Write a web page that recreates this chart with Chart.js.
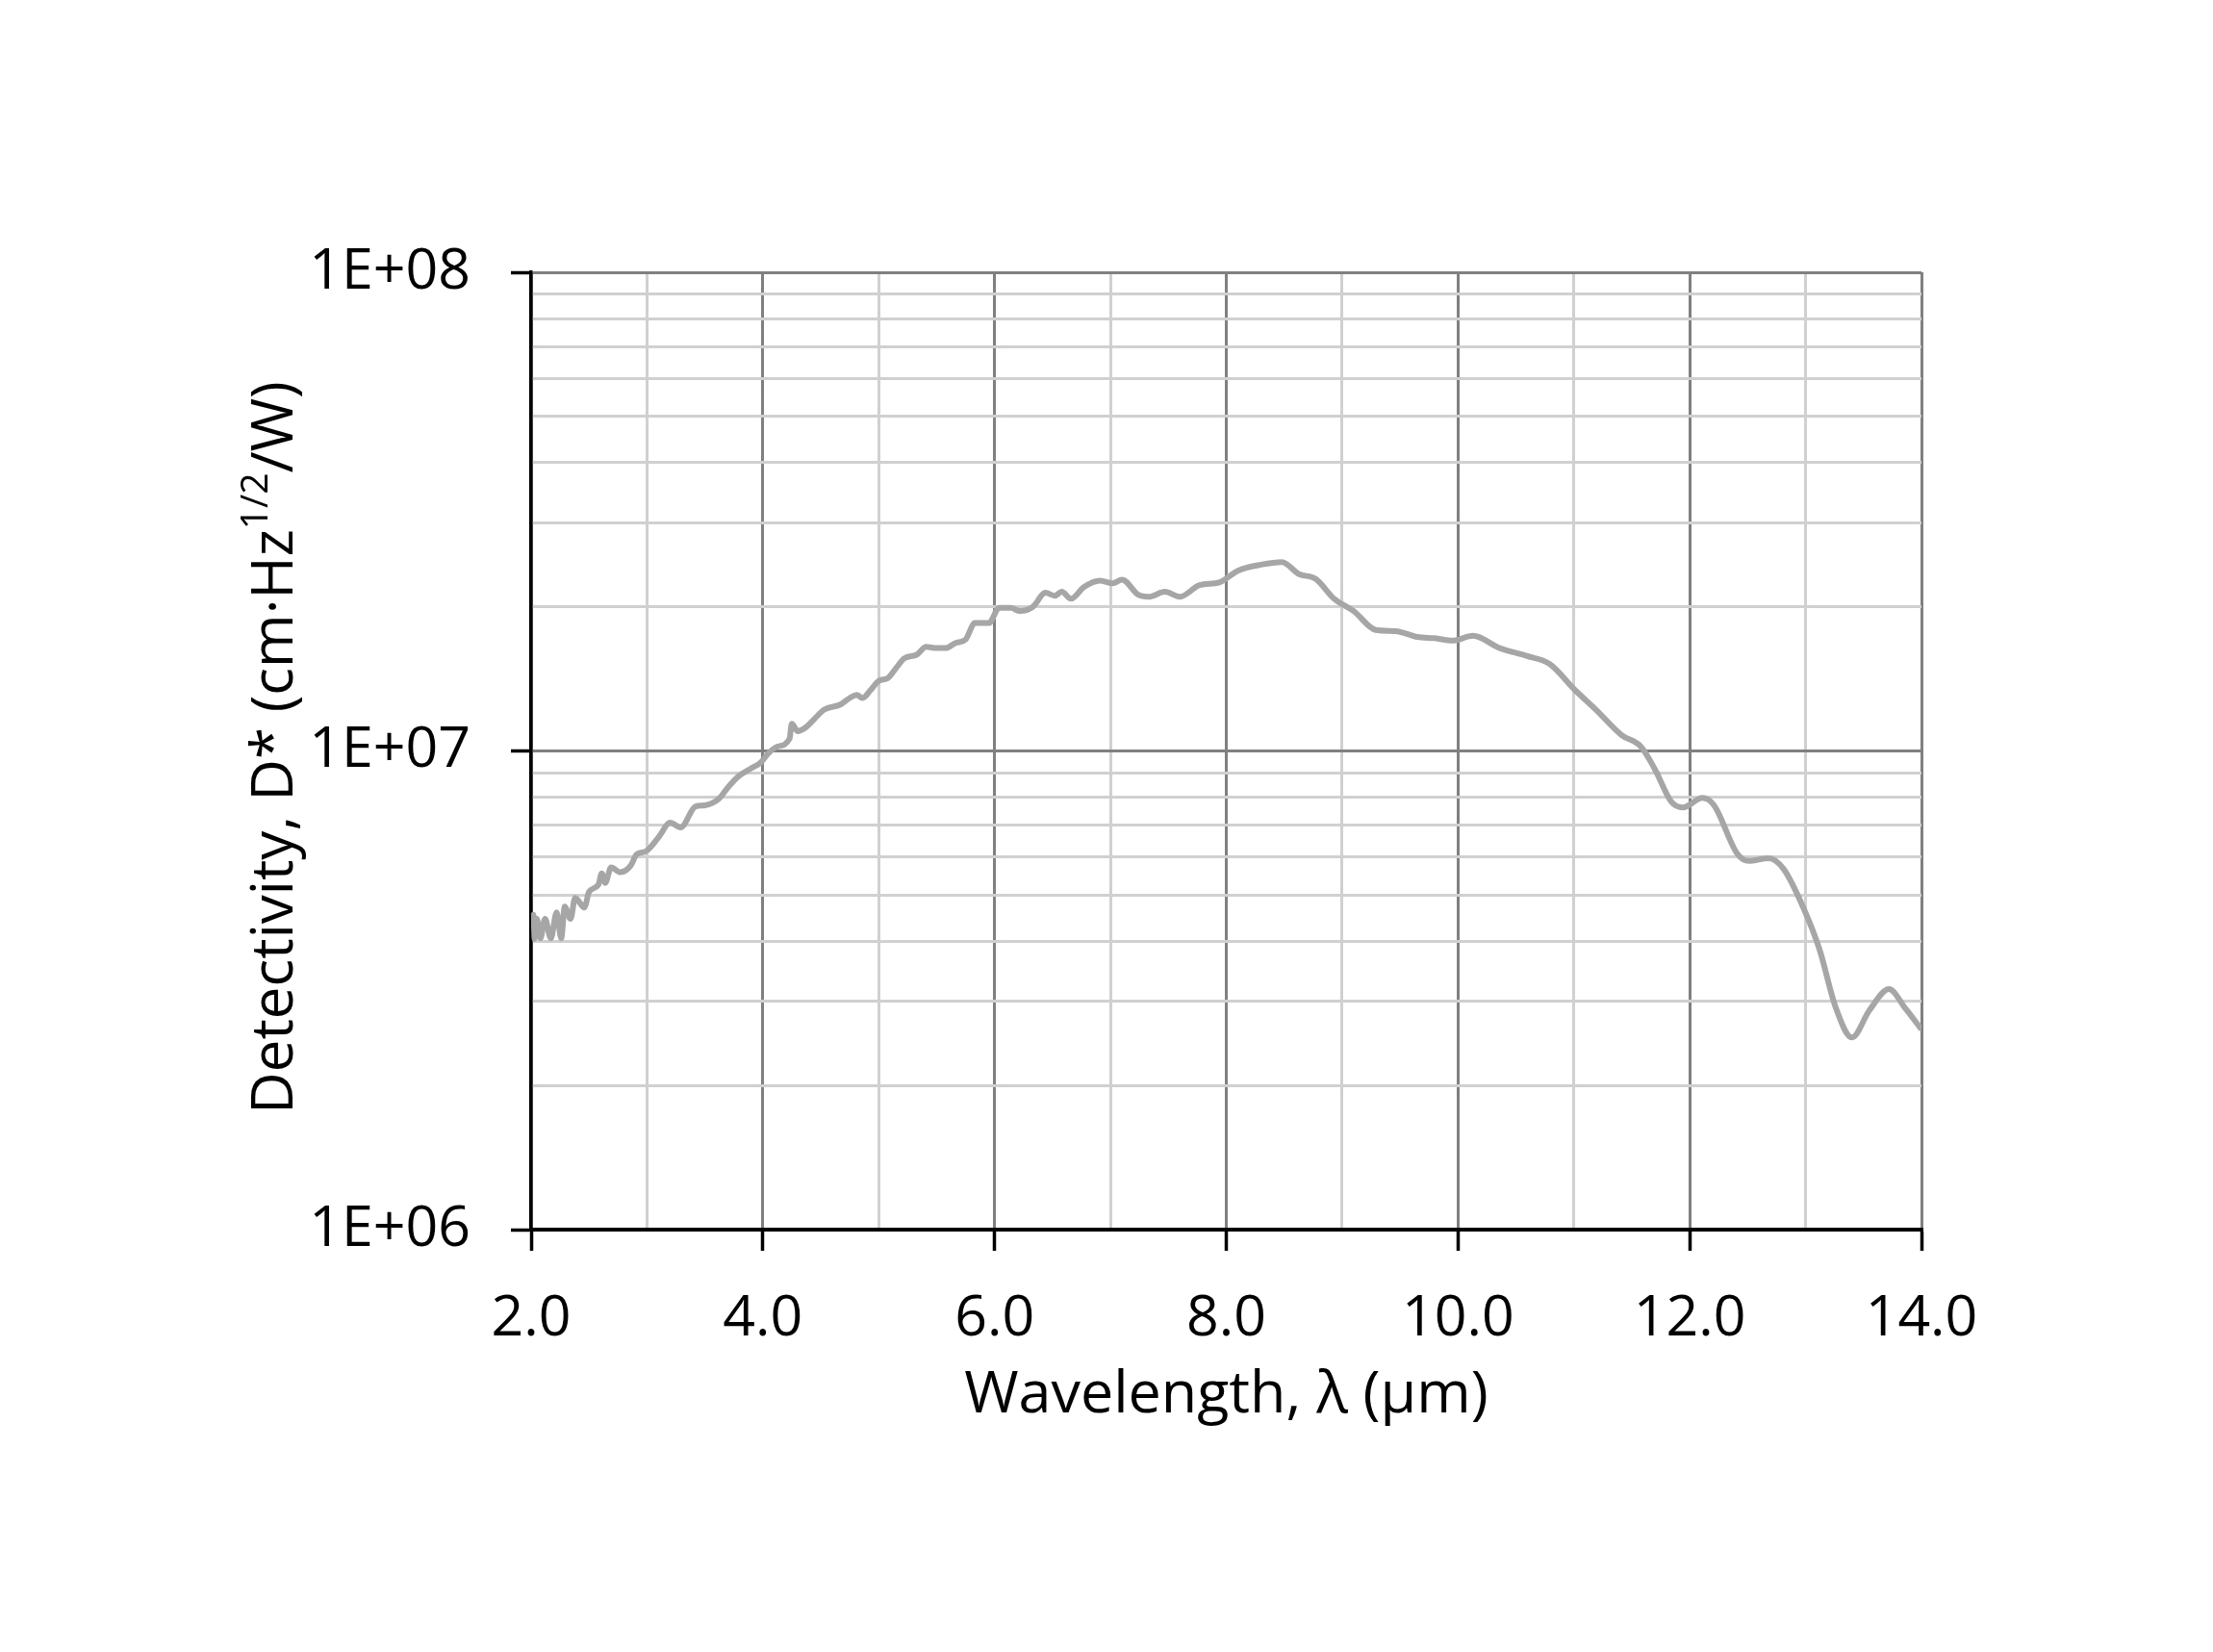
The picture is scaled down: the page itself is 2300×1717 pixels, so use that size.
<!DOCTYPE html>
<html>
<head>
<meta charset="utf-8">
<script src="https://cdn.jsdelivr.net/npm/chart.js@4.4.1/dist/chart.umd.min.js"></script>
<style>
  html, body { margin: 0; padding: 0; background: #fff; }
  #wrap { width: 2300px; height: 1717px; }
</style>
</head>
<body>
<div id="wrap"><canvas id="myChart" width="2300" height="1717"></canvas></div>
<script>
// wavelength (um) and detectivity D*
const wavelength = [
  2.00, 2.02, 2.03, 2.05, 2.08, 2.12, 2.17, 2.22, 2.26, 2.29,
  2.34, 2.38, 2.46, 2.50, 2.58, 2.61, 2.64, 2.69, 2.77, 2.86,
  2.91, 2.99, 3.10, 3.20, 3.29, 3.42, 3.50, 3.62, 3.70, 3.79,
  3.90, 3.98, 4.05, 4.12, 4.23, 4.25, 4.30, 4.37, 4.45, 4.53,
  4.67, 4.75, 4.81, 4.86, 4.93, 5.00, 5.08, 5.15, 5.22, 5.33,
  5.41, 5.50, 5.58, 5.66, 5.75, 5.83, 5.95, 6.04, 6.14, 6.22,
  6.33, 6.44, 6.52, 6.58, 6.66, 6.77, 6.91, 7.02, 7.10, 7.24,
  7.33, 7.47, 7.60, 7.77, 7.94, 8.10, 8.30, 8.48, 8.63, 8.77,
  8.93, 9.10, 9.29, 9.46, 9.65, 9.80, 9.95, 10.13, 10.36, 10.59,
  10.79, 11.01, 11.19, 11.41, 11.58, 11.70, 11.84, 11.94, 12.11, 12.21,
  12.41, 12.51, 12.68, 12.81, 12.98, 13.12, 13.26, 13.40, 13.55, 13.72,
  13.86, 14.00
];
const detectivity = [
  4.30e6, 4.55e6, 4.05e6, 4.46e6, 4.06e6, 4.46e6, 4.06e6, 4.60e6, 4.06e6, 4.73e6,
  4.46e6, 4.93e6, 4.71e6, 5.08e6, 5.25e6, 5.55e6, 5.30e6, 5.71e6, 5.58e6, 5.76e6,
  6.08e6, 6.17e6, 6.60e6, 7.08e6, 6.92e6, 7.66e6, 7.70e6, 7.94e6, 8.40e6, 8.85e6,
  9.20e6, 9.45e6, 9.90e6, 1.02e7, 1.06e7, 1.14e7, 1.10e7, 1.12e7, 1.17e7, 1.22e7,
  1.25e7, 1.29e7, 1.31e7, 1.29e7, 1.34e7, 1.40e7, 1.42e7, 1.49e7, 1.56e7, 1.59e7,
  1.65e7, 1.64e7, 1.64e7, 1.68e7, 1.71e7, 1.85e7, 1.85e7, 1.99e7, 1.99e7, 1.96e7,
  2.00e7, 2.14e7, 2.11e7, 2.15e7, 2.08e7, 2.20e7, 2.27e7, 2.24e7, 2.28e7, 2.12e7,
  2.10e7, 2.15e7, 2.10e7, 2.22e7, 2.25e7, 2.38e7, 2.45e7, 2.48e7, 2.34e7, 2.29e7,
  2.08e7, 1.96e7, 1.79e7, 1.78e7, 1.73e7, 1.72e7, 1.70e7, 1.74e7, 1.64e7, 1.58e7,
  1.52e7, 1.34e7, 1.22e7, 1.08e7, 1.02e7, 9.15e6, 7.84e6, 7.62e6, 7.98e6, 7.70e6,
  6.10e6, 5.89e6, 5.97e6, 5.67e6, 4.71e6, 3.85e6, 2.91e6, 2.52e6, 2.87e6, 3.18e6,
  2.90e6, 2.62e6
];

const xTicks = [2, 3, 4, 5, 6, 7, 8, 9, 10, 11, 12, 13, 14];
const yTicks = [
  1e6, 2e6, 3e6, 4e6, 5e6, 6e6, 7e6, 8e6, 9e6,
  1e7, 2e7, 3e7, 4e7, 5e7, 6e7, 7e7, 8e7, 9e7, 1e8
];
const yLabels = { 1e6: '1E+06', 1e7: '1E+07', 1e8: '1E+08' };

const FONT = "'Open Sans', 'Noto Sans', sans-serif";
const majorGrid = '#808080';
const minorGrid = '#d0d0d0';

const isMajorX = v => v % 2 === 0;
const isMajorY = v => yLabels[v] !== undefined;

// axis titles, the y one needs a superscript
const axisTitles = {
  id: 'axisTitles',
  afterDraw(chart) {
    const ctx = chart.ctx;
    const area = chart.chartArea;
    ctx.save();
    ctx.fillStyle = '#000';
    ctx.textBaseline = 'alphabetic';

    ctx.font = '61px ' + FONT;
    ctx.textAlign = 'center';
    ctx.fillText('Wavelength, λ (µm)', (area.left + area.right) / 2, 1468);

    const parts = [
      { t: 'Detectivity, D* (cm·Hz', size: 60, rise: 0 },
      { t: '1/2', size: 39, rise: 26 },
      { t: '/W)', size: 60, rise: 0 }
    ];
    let total = 0;
    parts.forEach(p => {
      ctx.font = p.size + 'px ' + FONT;
      p.w = ctx.measureText(p.t).width;
      total += p.w;
    });
    ctx.translate(304, 777);
    ctx.rotate(-Math.PI / 2);
    ctx.textAlign = 'left';
    let x = -total / 2;
    parts.forEach(p => {
      ctx.font = p.size + 'px ' + FONT;
      ctx.fillText(p.t, x, -p.rise);
      x += p.w;
    });
    ctx.restore();
  }
};

const ctx = document.getElementById('myChart').getContext('2d');
const myChart = new Chart(ctx, {
  type: 'line',
  data: {
    datasets: [{
      data: wavelength.map((w, i) => ({ x: w, y: detectivity[i] })),
      borderColor: '#a6a6a6',
      borderWidth: 6,
      pointRadius: 0,
      cubicInterpolationMode: 'monotone',
      fill: false
    }]
  },
  options: {
    responsive: false,
    devicePixelRatio: 1,
    animation: false,
    layout: { padding: { top: 283, right: 303, left: 0, bottom: 0 } },
    plugins: {
      legend: { display: false },
      tooltip: { enabled: false }
    },
    scales: {
      x: {
        type: 'linear',
        min: 2,
        max: 14,
        afterFit: s => { s.height = 439; },
        afterBuildTicks: s => { s.ticks = xTicks.map(v => ({ value: v })); },
        ticks: {
          autoSkip: false,
          maxRotation: 0,
          padding: 36,
          color: '#000',
          font: { family: FONT, size: 59 },
          callback: v => isMajorX(v) ? v.toFixed(1) : ''
        },
        grid: {
          color: c => isMajorX(c.tick.value) ? majorGrid : minorGrid,
          lineWidth: 3,
          tickLength: 22,
          tickWidth: 3.5,
          tickColor: c => isMajorX(c.tick.value) ? '#000' : 'rgba(0,0,0,0)'
        },
        border: { color: '#000', width: 4 }
      },
      y: {
        type: 'logarithmic',
        min: 1e6,
        max: 1e8,
        afterFit: s => { s.width = 552; },
        afterBuildTicks: s => { s.ticks = yTicks.map(v => ({ value: v, major: isMajorY(v) })); },
        ticks: {
          autoSkip: false,
          padding: 42,
          color: '#000',
          font: { family: FONT, size: 59 },
          callback: v => isMajorY(v) ? yLabels[v] : ''
        },
        grid: {
          color: c => isMajorY(c.tick.value) ? majorGrid : minorGrid,
          lineWidth: 3,
          tickLength: 21,
          tickWidth: 3.5,
          tickColor: c => isMajorY(c.tick.value) ? '#000' : 'rgba(0,0,0,0)'
        },
        border: { color: '#000', width: 3.5 }
      }
    }
  },
  plugins: [axisTitles]
});
</script>
</body>
</html>
